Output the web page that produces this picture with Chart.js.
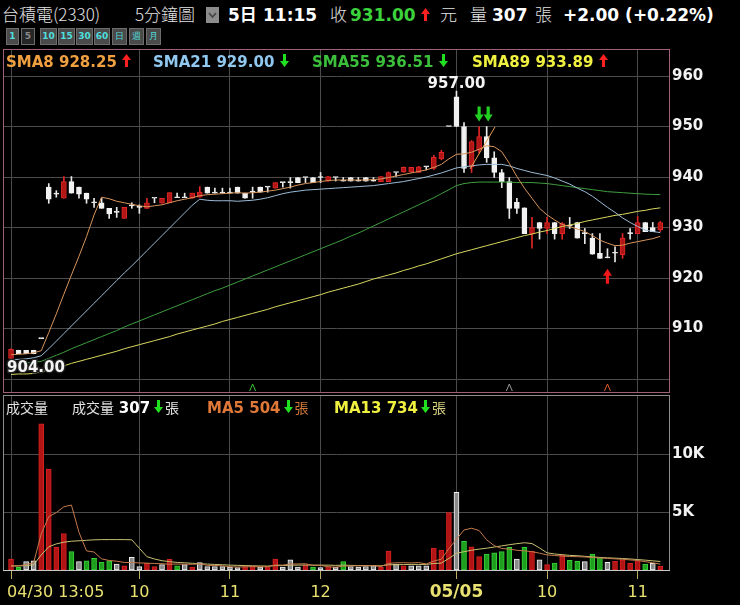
<!DOCTYPE html>
<html><head><meta charset="utf-8">
<script src="https://cdn.jsdelivr.net/npm/chart.js@4.4.1/dist/chart.umd.min.js"></script>
<style>
html,body{margin:0;padding:0;background:#000;}
body{width:740px;height:605px;position:relative;overflow:hidden;font-family:"DejaVu Sans","Noto Sans CJK TC",sans-serif;color:#e2e2e2;}
.row{position:absolute;white-space:nowrap;}
.row > span{display:inline-block;}
.cjk{font-family:"Noto Sans CJK TC","Noto Sans CJK SC",sans-serif;}
.bd{font-weight:bold;}
.btn{position:absolute;top:28px;height:17px;background:#4a4a4a;border:1px solid #6c6c6c;box-sizing:border-box;color:#4fdede;font:bold 9px "DejaVu Sans",sans-serif;line-height:15px;text-align:center;}
canvas{position:absolute;left:0;}
svg{vertical-align:baseline;}
</style></head><body>

<div class="row" id="hdr" style="left:2px;top:1px;line-height:26px;font-size:17px;"></div>
<div class="btn" style="left:6px;width:13px;">1</div>
<div class="btn" style="left:21px;width:14px;background:#262626;color:#8a8a8a;">5</div>
<div class="btn" style="left:40px;width:17px;">10</div>
<div class="btn" style="left:58px;width:17px;">15</div>
<div class="btn" style="left:76px;width:17px;">30</div>
<div class="btn" style="left:94px;width:16px;">60</div>
<div class="btn cjk" style="left:112px;width:15px;font-weight:normal;">日</div>
<div class="btn cjk" style="left:129px;width:15px;font-weight:normal;">週</div>
<div class="btn cjk" style="left:146px;width:15px;font-weight:normal;">月</div>

<canvas id="main" width="740" height="344" style="top:49px"></canvas>
<canvas id="vol" width="740" height="212" style="top:393px"></canvas>

<div class="row bd" id="smaLegend" style="left:6px;top:53px;line-height:18px;font-size:15px;"></div>
<div class="row" id="volLegend" style="left:6px;top:398px;line-height:18px;font-size:15px;"></div>

<script>
// ---------------- DATA ----------------
const stockName = '台積電(2330)';
const periodLabel = '5分鐘圖';
const lastTime = '11:15';
const lastClose = 931.00;
const lastVolume = 307;
const change = 2.00;
const changePct = 0.22;

const tickBars   = [0, 17, 29, 41, 59, 71, 83];
const tickLabels = ['04/30 13:05', '10', '11', '12', '05/05', '10', '11'];
const tickBold   = [false, false, false, false, true, false, false];
const priceTicks = [900, 910, 920, 930, 940, 950, 960];
const volTicks   = [5000, 10000];

const opens = [904.1,905.7,905.7,905.7,908.0,938.0,936.6,935.8,939.1,938.0,
 936.8,934.9,934.9,933.8,933.0,931.8,934.3,934.0,933.8,935.8,
 934.8,934.9,935.9,935.9,935.8,936.0,938.0,936.8,936.8,936.8,
 938.0,936.8,937.0,938.0,938.0,937.8,938.9,938.9,939.9,939.9,
 939.9,939.9,939.2,939.9,939.2,939.9,939.2,939.9,939.2,939.1,
 939.1,940.9,941.0,941.0,940.9,942.0,941.7,943.6,950.0,955.9,
 950.0,942.0,945.3,948.0,943.8,940.9,939.1,935.0,933.9,928.8,
 931.0,929.8,931.0,928.8,930.5,931.0,928.8,927.9,924.9,924.0,
 924.9,924.6,928.8,928.8,931.0,930.0,929.5];
const highs = [906.0,905.7,905.7,905.7,908.0,938.7,937.3,940.1,940.1,938.0,
 936.8,935.8,935.8,933.8,934.0,934.0,934.9,934.5,935.8,935.8,
 935.8,936.9,936.8,936.8,936.8,938.1,938.0,937.8,937.8,937.8,
 938.0,936.8,938.0,938.0,938.0,938.9,938.9,939.9,939.9,939.9,
 939.9,940.9,940.1,939.9,939.9,939.9,939.9,939.9,939.9,940.1,
 941.0,940.9,942.0,941.9,942.1,942.0,944.3,945.3,950.0,957.0,
 950.8,947.2,950.0,950.0,945.0,941.5,939.9,935.8,933.9,932.0,
 931.0,932.0,931.0,931.0,932.0,931.0,929.8,928.8,928.8,925.8,
 926.2,928.8,929.8,932.2,931.0,931.0,931.2];
const lows = [904.0,905.0,905.0,905.0,908.0,934.8,936.0,935.8,936.8,935.8,
 934.8,934.0,933.8,931.8,932.0,931.8,933.8,932.8,933.8,934.9,
 934.8,934.9,935.9,935.9,935.8,936.0,936.8,936.8,936.8,936.8,
 936.8,935.8,935.8,937.0,937.0,937.8,938.0,937.8,938.9,938.9,
 938.9,938.9,939.2,939.2,939.2,939.2,939.2,939.2,939.2,939.1,
 939.1,940.1,940.9,940.9,940.9,941.4,941.5,943.4,950.0,950.0,
 940.9,940.9,944.7,942.9,939.9,937.9,931.8,932.8,928.8,925.9,
 927.7,928.8,927.7,927.7,929.8,927.9,926.8,924.7,923.9,924.0,
 923.2,923.9,927.7,928.8,929.2,929.2,929.2];
const closes = [905.9,905.0,905.0,905.0,908.0,935.6,936.6,939.1,936.8,936.6,
 935.6,934.9,933.8,932.7,933.0,934.0,934.3,934.0,934.9,935.8,
 935.8,936.9,935.9,935.9,936.8,937.0,936.8,936.8,936.8,936.8,
 936.8,935.8,937.0,937.0,938.0,938.9,938.9,938.9,938.9,939.9,
 938.9,939.9,940.1,939.9,939.2,939.2,939.2,939.2,939.2,940.1,
 940.9,940.9,941.9,941.9,942.0,942.0,943.9,944.9,950.0,950.0,
 941.7,947.0,948.0,943.8,940.9,939.1,933.8,933.8,928.8,930.0,
 929.8,931.0,928.8,930.8,930.3,927.9,928.8,924.7,923.9,924.0,
 924.9,927.9,928.8,931.0,929.2,929.2,931.0];

const sma8 = [904.8,904.9,905.0,905.2,905.6,909.2,912.9,916.8,920.6,924.3,
 928.2,932.5,936.0,935.7,935.2,934.9,934.6,934.3,934.1,934.3,
 934.5,934.9,935.3,935.6,935.9,936.3,936.5,936.6,936.7,936.8,
 936.9,936.8,936.9,937.0,937.2,937.4,937.7,938.0,938.4,938.7,
 938.9,939.1,939.3,939.4,939.4,939.4,939.4,939.4,939.5,939.6,
 939.9,940.2,940.5,940.8,941.1,941.4,941.9,942.5,943.6,944.5,
 944.6,944.9,945.5,946.2,946.0,945.0,942.7,940.1,937.8,935.8,
 933.8,932.5,931.5,930.6,930.2,929.7,929.2,928.4,927.5,926.9,
 926.4,926.5,926.9,927.2,927.5,927.8,928.25];
const sma21 = [903.8,903.9,904.0,904.2,904.6,906.0,907.5,909.0,910.5,912.0,
 913.5,915.0,916.5,918.0,919.5,921.0,922.4,923.9,925.4,926.9,
 928.4,929.9,931.4,932.9,934.4,935.6,935.4,935.3,935.3,935.3,
 935.2,935.3,935.4,935.6,935.9,936.3,936.7,937.0,937.2,937.4,
 937.5,937.6,937.7,937.8,937.9,938.0,938.1,938.2,938.3,938.5,
 938.7,938.9,939.1,939.4,939.7,940.0,940.4,940.8,941.3,941.8,
 942.0,942.2,942.4,942.5,942.5,942.5,942.2,941.7,941.3,940.9,
 940.6,940.3,939.8,939.2,938.6,937.8,937.1,936.2,935.1,934.0,
 933.0,931.9,931.0,930.2,929.5,929.2,929.00];
const sma55 = [903.0,903.1,903.2,903.3,903.5,904.1,904.7,905.3,906.0,906.6,
 907.2,907.8,908.4,909.0,909.6,910.3,910.9,911.5,912.1,912.7,
 913.3,913.9,914.5,915.1,915.7,916.3,916.9,917.5,918.0,918.6,
 919.2,919.8,920.4,921.0,921.6,922.2,922.8,923.4,924.0,924.6,
 925.2,925.8,926.4,927.0,927.6,928.3,928.9,929.6,930.3,931.0,
 931.7,932.4,933.1,933.8,934.5,935.2,935.9,936.7,937.5,938.3,
 938.7,938.9,939.0,939.0,939.0,939.0,939.0,938.9,938.9,938.9,
 938.8,938.7,938.5,938.3,938.1,937.9,937.7,937.5,937.3,937.1,
 937.0,936.9,936.8,936.7,936.6,936.55,936.51];
const sma89 = [900.9,901.0,901.0,901.1,901.4,901.8,902.2,902.6,903.1,903.5,
 903.9,904.3,904.7,905.1,905.5,906.0,906.4,906.8,907.2,907.6,
 908.0,908.4,908.9,909.3,909.7,910.1,910.5,910.9,911.4,911.8,
 912.2,912.6,913.0,913.4,913.8,914.3,914.7,915.1,915.5,915.9,
 916.3,916.7,917.2,917.6,918.0,918.4,918.8,919.3,919.8,920.2,
 920.6,921.0,921.5,921.9,922.4,922.8,923.3,923.8,924.3,924.8,
 925.2,925.6,926.0,926.4,926.8,927.2,927.6,928.0,928.4,928.7,
 929.1,929.4,929.8,930.2,930.5,930.8,931.2,931.5,931.8,932.1,
 932.4,932.6,932.9,933.2,933.4,933.7,933.89];

const trendBars   = [60.8, 64.1];
const trendPrices = [941.6, 949.9];

const sellSignalBars = [62, 63];
const buySignalBars  = [79];
const markerBars   = [32, 66, 79];
const markerColors = ['#38c838', '#9a9a9a', '#e05a28'];

const hiBar = 59, hiPrice = 957.00;
const loBar = 0,  loPrice = 904.00;

const volumes = [950,230,720,800,12600,8700,1980,3150,1580,720,
 800,1000,660,780,520,370,1090,290,580,290,
 460,920,370,460,260,630,290,290,290,250,
 200,300,350,250,300,950,250,870,250,400,
 250,200,300,250,720,300,250,300,400,250,
 1640,520,350,350,350,350,1900,1720,4950,6700,
 2470,2000,1150,1380,1470,1580,1950,950,1950,1600,
 870,460,600,1300,830,740,720,1380,1090,660,
 740,870,570,800,520,570,307];
const volDirs = ('rgwwrrrrgw'+'ggggwrwwrr'+'wrgwrwwwww'+'wrrwrrwwwr'+'gwrwgwwwwr'+
 'rwrwwwrrrw'+'grrggggwgr'+'wrgrggwggw'+'rrrrgwr').split('');
const volMA5 = [350,360,450,650,3100,4600,4950,5450,5600,3250,
 1650,1550,960,820,760,650,640,610,590,560,
 540,500,510,500,490,540,400,390,360,280,
 260,270,290,270,280,430,420,520,520,540,
 400,400,280,240,340,350,360,360,390,300,
 570,620,630,610,640,520,770,930,1850,2650,
 3450,3600,3400,2600,2100,1850,1800,1700,1650,1580,
 1450,1300,1250,1200,1160,1150,1120,1080,1040,1000,
 960,920,870,820,720,620,504];
const volMA13 = [350,350,380,450,1300,2000,2250,2400,2480,2520,
 2560,2600,2620,2620,2620,2620,2600,1870,1150,950,
 800,720,650,620,580,540,510,480,450,420,
 400,380,360,350,340,380,380,420,420,430,
 420,420,420,400,420,400,380,380,360,360,
 450,460,470,480,480,480,560,600,1000,1440,
 1580,1700,1800,1880,1980,2080,2180,2270,2350,2280,
 1900,1480,1380,1320,1260,1230,1180,1130,1080,1050,
 1020,990,950,900,850,790,734];

// ---------------- STYLE ----------------
const X_MIN = -0.93, X_MAX = 87.15;
const Y_MIN = 897.43, Y_MAX = 965.15;
const gridColor = '#4b4b4b';
const RED_FILL = '#b01616', RED_EDGE = '#e02626', WHITE = '#f2f2f2';
const C_SMA8 = '#f0a040', C_SMA21 = '#90c8f0', C_SMA55 = '#3cc03c', C_SMA89 = '#f0f040';

function upArrow(color){return '<svg width="9" height="13" viewBox="0 0 9 13"><path d="M4.5 0 L9 6 L6 6 L6 13 L3 13 L3 6 L0 6 Z" fill="'+color+'"/></svg>';}
function downArrow(color){return '<svg width="9" height="13" viewBox="0 0 9 13"><path d="M4.5 13 L9 7 L6 7 L6 0 L3 0 L3 7 L0 7 Z" fill="'+color+'"/></svg>';}
function trendArrow(arr){const a=arr[arr.length-1], b=arr[arr.length-2]; return a>=b?upArrow('#ff2020'):downArrow('#20e020');}
const gap = w => '<span style="display:inline-block;width:'+w+'px"></span>';

// header
document.getElementById('hdr').innerHTML =
 '<span class="cjk" style="width:133px;font-weight:300">'+stockName+'</span>'+
 '<span class="cjk" style="width:71px;font-weight:300">'+periodLabel+'</span>'+
 '<span style="width:22px"><span style="display:inline-block;width:13px;height:16px;background:#8c8c8c;vertical-align:-2px;position:relative"><svg width="13" height="16" style="position:absolute;left:0;top:0"><path d="M3 6 L6.5 10 L10 6" stroke="#444" stroke-width="1.6" fill="none"/></svg></span></span>'+
 '<span class="bd" style="width:35px;color:#fff">5<span class="cjk" style="font-weight:bold">日</span></span>'+
 '<span class="bd" style="width:67px;color:#fff">'+lastTime+'</span>'+
 '<span class="cjk" style="width:20px;font-weight:300">收</span>'+
 '<span class="bd" style="width:71px;color:#3cd23c">'+lastClose.toFixed(2)+'</span>'+
 '<span style="width:19px">'+upArrow('#ff2020')+'</span>'+
 '<span class="cjk" style="width:30px;font-weight:300">元</span>'+
 '<span class="cjk" style="width:22px;font-weight:300">量</span>'+
 '<span class="bd" style="width:43px;color:#fff">'+lastVolume+'</span>'+
 '<span class="cjk" style="width:28px;font-weight:300">張</span>'+
 '<span class="bd" style="color:#fff">+'+change.toFixed(2)+' (+'+changePct.toFixed(2)+'%)</span>';

// SMA legend
const L = sma8.length-1;
document.getElementById('smaLegend').innerHTML =
 '<span style="width:147px;color:'+C_SMA8+'">SMA8 '+sma8[L].toFixed(2)+' '+trendArrow(sma8)+'</span>'+
 '<span style="width:159px;color:'+C_SMA21+'">SMA21 '+sma21[L].toFixed(2)+' '+trendArrow(sma21)+'</span>'+
 '<span style="width:160px;color:'+C_SMA55+'">SMA55 '+sma55[L].toFixed(2)+' '+trendArrow(sma55)+'</span>'+
 '<span style="color:'+C_SMA89+'">SMA89 '+sma89[L].toFixed(2)+' '+trendArrow(sma89)+'</span>';

// Volume legend
const cj = (t,c)=>'<span class="cjk" style="font-size:14px;font-weight:normal;color:'+c+'">'+t+'</span>';
document.getElementById('volLegend').innerHTML =
 '<span style="width:66px">'+cj('成交量','#e2e2e2')+'</span>'+
 '<span style="width:135px">'+cj('成交量','#e2e2e2')+' <b style="color:#fff">'+volumes[L]+'</b>'+gap(4)+downArrow('#20e020')+gap(2)+cj('張','#e2e2e2')+'</span>'+
 '<span style="width:127px;color:#e07838"><b>MA5 '+volMA5[L]+'</b>'+gap(3)+downArrow('#20e020')+gap(2)+cj('張','#d07838')+'</span>'+
 '<span style="color:#f0f040"><b>MA13 '+volMA13[L]+'</b>'+gap(3)+downArrow('#20e020')+gap(2)+cj('張','#d8d080')+'</span>';

// ---------------- CHARTS ----------------
const idx = opens.map((_, i) => i);
const isUp = idx.map(i => closes[i] > opens[i]);
const fixedTicks = vals => scale => { scale.ticks = vals.map(v => ({value: v})); };
const xy = arr => arr.map((v, i) => ({x: i, y: v}));
const fitY = s => { s.width = 71; s.paddingTop = 0; s.paddingBottom = 0; s.paddingLeft = 0; s.paddingRight = 0; };

function drawArrow(ctx, cx, tipY, dir, color){
  const w = 9, h = 15, head = 7, sh = 1.6;
  ctx.beginPath();
  if (dir === 'down'){
    ctx.moveTo(cx, tipY); ctx.lineTo(cx + w/2, tipY - head); ctx.lineTo(cx + sh, tipY - head);
    ctx.lineTo(cx + sh, tipY - h); ctx.lineTo(cx - sh, tipY - h); ctx.lineTo(cx - sh, tipY - head);
    ctx.lineTo(cx - w/2, tipY - head);
  } else {
    ctx.moveTo(cx, tipY); ctx.lineTo(cx + w/2, tipY + head); ctx.lineTo(cx + sh, tipY + head);
    ctx.lineTo(cx + sh, tipY + h); ctx.lineTo(cx - sh, tipY + h); ctx.lineTo(cx - sh, tipY + head);
    ctx.lineTo(cx - w/2, tipY + head);
  }
  ctx.closePath(); ctx.fillStyle = color; ctx.fill();
}

const mainDecor = {
  id: 'mainDecor',
  afterDatasetsDraw(chart){
    const {ctx, scales:{x, y}, chartArea:a} = chart;
    ctx.save();
    ctx.font = 'bold 15px "DejaVu Sans"';
    ctx.fillStyle = '#f4f4f4';
    ctx.textAlign = 'center'; ctx.textBaseline = 'alphabetic';
    ctx.fillText(hiPrice.toFixed(2), x.getPixelForValue(hiBar), y.getPixelForValue(hiPrice) - 3);
    ctx.textAlign = 'left'; ctx.textBaseline = 'top';
    ctx.lineWidth = 3; ctx.strokeStyle = '#202020';
    const lx = x.getPixelForValue(loBar) - 4, ly = y.getPixelForValue(loPrice) + 2;
    ctx.strokeText(loPrice.toFixed(2), lx, ly);
    ctx.fillText(loPrice.toFixed(2), lx, ly);
    sellSignalBars.forEach((b, k) => drawArrow(ctx, x.getPixelForValue(b) + k*1.5, y.getPixelForValue(highs[b]) - 5, 'down', '#22d022'));
    buySignalBars.forEach(b => drawArrow(ctx, x.getPixelForValue(b), y.getPixelForValue(lows[b]) + 11, 'up', '#f01818'));
    markerBars.forEach((b, k) => {
      const cx = x.getPixelForValue(b);
      ctx.beginPath(); ctx.moveTo(cx - 3, a.bottom - 1); ctx.lineTo(cx, a.bottom - 8); ctx.lineTo(cx + 3, a.bottom - 1);
      ctx.strokeStyle = markerColors[k]; ctx.lineWidth = 1; ctx.stroke();
    });
    ctx.restore();
  },
  afterDraw(chart){
    const {ctx, chartArea:a} = chart;
    ctx.save(); ctx.strokeStyle = '#a0607a'; ctx.lineWidth = 1;
    ctx.strokeRect(a.left - 0.5, a.top - 0.5, a.right - a.left + 1, a.bottom - a.top + 1);
    ctx.restore();
  }
};

new Chart(document.getElementById('main'), {
  type: 'bar',
  data: { datasets: [
    {type:'line', data: trendBars.map((b,i)=>({x:b, y:trendPrices[i]})), borderColor:'#e8a050', borderWidth:1, pointRadius:0, order:0},
    {type:'line', data: xy(sma8),  borderColor:'#d8945c', borderWidth:1, pointRadius:0, order:0},
    {type:'line', data: xy(sma21), borderColor:'#9cbcd8', borderWidth:1, pointRadius:0, order:0},
    {type:'line', data: xy(sma55), borderColor:'#3e9e3e', borderWidth:1, pointRadius:0, order:0},
    {type:'line', data: xy(sma89), borderColor:'#d8d860', borderWidth:1, pointRadius:0, order:0},
    {type:'bar', data: idx.map(i => ({x:i, y:[opens[i], closes[i]]})),
     backgroundColor: idx.map(i => isUp[i] ? RED_FILL : WHITE),
     borderColor: idx.map(i => isUp[i] ? RED_EDGE : WHITE),
     borderWidth: 1, borderSkipped: false, barThickness: 5, minBarLength: 1, grouped: false, order: 1},
    {type:'bar', data: idx.map(i => ({x:i, y:[lows[i], highs[i]]})),
     backgroundColor: idx.map(i => isUp[i] ? RED_EDGE : '#e8e8e8'),
     borderWidth: 0, barThickness: 1, grouped: false, order: 2}
  ]},
  options: {
    responsive:false, animation:false, devicePixelRatio:1,
    layout:{padding:{left:4, top:1, right:0, bottom:1}},
    plugins:{legend:{display:false}, tooltip:{enabled:false}},
    scales:{
      x:{type:'linear', min:X_MIN, max:X_MAX, offset:false, afterBuildTicks: fixedTicks(tickBars),
         afterFit: s => { s.height = 0; s.paddingLeft = 0; s.paddingRight = 0; }, ticks:{display:false},
         grid:{color:gridColor, drawTicks:false, offset:false}, border:{display:false}},
      y:{position:'right', min:Y_MIN, max:Y_MAX, afterBuildTicks: fixedTicks(priceTicks),
         afterFit: fitY,
         ticks:{color:'#f2f2f2', font:{family:'DejaVu Sans', weight:'bold', size:15}, padding:3,
                callback: v => v === 900 ? '' : String(v)},
         grid:{color:gridColor, drawTicks:false}, border:{display:false}}
    }
  },
  plugins:[mainDecor]
});

const volFill = {r:'#b01414', g:'#1ea01e', w:'#8a8a8a'};
const volEdge = {r:'#d82020', g:'#38d038', w:'#f0f0f0'};

const volDecor = {
  id: 'volDecor',
  afterDraw(chart){
    const {ctx, scales:{x}, chartArea:a} = chart;
    ctx.save();
    ctx.strokeStyle = '#8c8c8c'; ctx.lineWidth = 1;
    ctx.strokeRect(a.left - 0.5, a.top - 0.5, a.right - a.left + 1, a.bottom - a.top + 1);
    ctx.strokeStyle = '#c8c8c8';
    ctx.beginPath(); ctx.moveTo(a.left - 1, a.bottom + 0.5); ctx.lineTo(a.right + 1, a.bottom + 0.5); ctx.stroke();
    ctx.fillStyle = '#e8e070'; ctx.textBaseline = 'alphabetic';
    tickBars.forEach((b, k) => {
      ctx.font = (tickBold[k] ? 'bold 17px' : '16px') + ' "DejaVu Sans"';
      const px = x.getPixelForValue(b);
      if (k === 0){ ctx.textAlign = 'left'; ctx.fillText(tickLabels[k], px - 4, a.bottom + 27); }
      else { ctx.textAlign = 'center'; ctx.fillText(tickLabels[k], px, a.bottom + 27); }
    });
    ctx.restore();
  }
};

new Chart(document.getElementById('vol'), {
  type: 'bar',
  data: { datasets: [
    {type:'line', data: xy(volMA5),  borderColor:'#c47a4c', borderWidth:1, pointRadius:0, order:0},
    {type:'line', data: xy(volMA13), borderColor:'#c8c070', borderWidth:1, pointRadius:0, order:0},
    {type:'bar', data: xy(volumes),
     backgroundColor: volDirs.map(d => volFill[d]), borderColor: volDirs.map(d => volEdge[d]),
     borderWidth: 1, borderSkipped: false, barThickness: 5, grouped: false, order: 1}
  ]},
  options: {
    responsive:false, animation:false, devicePixelRatio:1,
    layout:{padding:{left:4, top:3, right:0, bottom:0}},
    plugins:{legend:{display:false}, tooltip:{enabled:false}},
    scales:{
      x:{type:'linear', min:X_MIN, max:X_MAX, offset:false, afterBuildTicks: fixedTicks(tickBars),
         afterFit: s => { s.height = 35; s.paddingLeft = 0; s.paddingRight = 0; }, ticks:{display:false},
         grid:{color:gridColor, drawTicks:true, tickLength:9, tickColor:'#b8b060', offset:false}, border:{display:false}},
      y:{position:'right', min:0, max:15000, afterBuildTicks: fixedTicks(volTicks),
         afterFit: fitY,
         ticks:{color:'#f2f2f2', font:{family:'DejaVu Sans', weight:'bold', size:15}, padding:3,
                callback: v => (v/1000) + 'K'},
         grid:{color:gridColor, drawTicks:false}, border:{display:false}}
    }
  },
  plugins:[volDecor]
});
</script>
</body></html>
